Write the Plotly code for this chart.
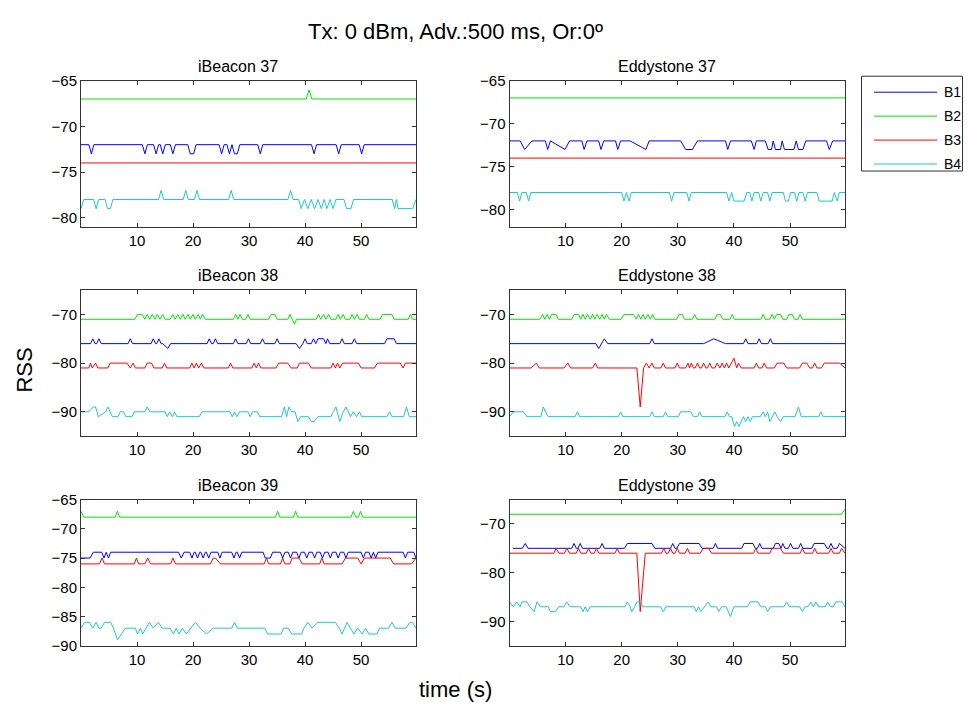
import plotly.graph_objects as go

SUPTITLE = "Tx: 0 dBm, Adv.:500 ms, Or:0º"
X_LABEL = "time (s)"
Y_LABEL = "RSS"
SERIES = ["B1", "B2", "B3", "B4"]
PANEL_TITLES = ["iBeacon 37", "Eddystone 37", "iBeacon 38", "Eddystone 38", "iBeacon 39", "Eddystone 39"]
X_TICKS = [10, 20, 30, 40, 50]

# each series: (time s, RSS dBm) vertices
IB37_B1 = [(0, -72), (1.4, -72), (1.85, -73), (2.3, -72), (10.95, -72), (11.4, -73), (11.85, -72),
           (12.95, -72), (13.4, -73), (13.85, -72), (14.15, -72), (14.6, -73), (15.05, -72),
           (15.95, -72), (16.4, -73), (16.85, -72), (19.05, -72), (19.5, -73), (20.1, -73), (20.55, -72),
           (24.65, -72), (25.1, -73), (25.55, -72), (26.05, -72), (26.5, -73), (26.95, -72),
           (27.4, -73), (27.9, -73), (28.35, -72), (31.55, -72), (32.0, -73), (32.45, -72),
           (41.15, -72), (41.6, -73), (42.05, -72), (45.55, -72), (46.0, -73), (46.45, -72),
           (49.65, -72), (50.1, -73), (50.55, -72), (59.8, -72)]
IB37_B2 = [(0, -67), (40.2, -67), (40.7, -66), (41.2, -67), (59.8, -67)]
IB37_B3 = [(0, -74), (59.8, -74)]
IB37_B4 = [(0, -79), (0.5, -78), (2.25, -78), (2.7, -79), (3.15, -78), (4.3, -78), (4.75, -79), (5.25, -79),
           (5.7, -78), (13.85, -78), (14.3, -77), (14.75, -78), (18.25, -78), (18.7, -77), (19.15, -78),
           (20.25, -78), (20.7, -77), (21.15, -78), (26.35, -78), (26.8, -77), (27.25, -78),
           (36.95, -78), (37.4, -77), (37.85, -78), (38.85, -78), (39.3, -79), (39.9, -78), (40.5, -79),
           (41.1, -78), (41.7, -79), (42.3, -78), (42.9, -79), (43.4, -78), (43.9, -79), (44.45, -78),
           (45.0, -79), (45.5, -78), (46.95, -78), (47.4, -79), (48.2, -79), (48.65, -78),
           (55.55, -78), (56.0, -79), (56.3, -78), (56.6, -79), (59.2, -79), (59.8, -78)]

ED37_B1 = [(0, -72), (1.9, -72), (2.7, -73), (4.0, -72), (6.4, -72), (6.8, -73), (7.3, -72), (9.9, -73),
           (10.7, -72), (12.9, -72), (13.3, -73), (13.8, -72), (15.9, -72), (16.3, -73), (16.8, -72),
           (18.9, -72), (19.3, -73), (19.8, -72), (21.5, -72), (24.3, -73), (24.9, -72), (30.5, -72),
           (31.4, -73), (32.6, -73), (33.5, -72), (38.5, -72), (38.9, -73), (39.4, -72), (43.1, -72),
           (43.6, -73), (44.0, -72), (45.6, -72), (46.1, -73), (46.7, -73), (47.0, -72), (47.4, -73),
           (48.3, -73), (48.6, -72), (49.0, -73), (50.7, -73), (51.1, -72), (51.5, -73), (52.3, -73),
           (52.8, -72), (56.5, -72), (57.0, -73), (57.6, -72), (59.8, -72)]
ED37_B2 = [(0, -67), (59.8, -67)]
ED37_B3 = [(0, -74), (59.8, -74)]
ED37_B4 = [(0, -78), (1.4, -78), (1.8, -79), (2.2, -78), (3.0, -78), (3.4, -79), (3.8, -78), (20.0, -78),
           (20.4, -79), (20.85, -78), (21.3, -79), (21.7, -78), (28.5, -78), (28.9, -79), (29.3, -78),
           (31.6, -78), (32.0, -79), (32.4, -78), (38.7, -78), (39.1, -79), (39.6, -78), (40.0, -79),
           (41.8, -79), (42.3, -78), (42.8, -78), (43.2, -79), (43.6, -78), (44.4, -78), (44.8, -79),
           (45.2, -78), (46.0, -78), (46.4, -79), (46.8, -78), (48.8, -78), (49.2, -79), (49.7, -79),
           (50.1, -78), (50.8, -78), (51.2, -79), (51.6, -78), (52.3, -78), (52.7, -79), (53.1, -78),
           (54.8, -78), (55.2, -79), (57.5, -79), (57.9, -78), (58.4, -79), (58.8, -78), (59.8, -78)]

IB38_B1 = [(0, -76), (1.7, -76), (2.1, -75), (2.5, -76), (2.8, -76), (3.2, -75), (3.6, -76), (8.4, -76),
           (8.8, -75), (9.2, -76), (12.5, -76), (12.9, -75), (13.3, -76), (13.5, -76), (13.9, -75),
           (14.3, -76), (14.6, -76), (15.5, -77), (16.0, -76), (22.5, -76), (22.9, -75), (23.3, -76),
           (23.6, -76), (24.0, -75), (24.4, -76), (27.2, -76), (27.6, -75), (28.0, -76), (29.5, -76),
           (29.9, -75), (30.3, -76), (32.0, -76), (32.4, -75), (32.8, -76), (34.6, -76), (35.0, -75),
           (35.4, -76), (38.4, -76), (39.0, -77), (39.6, -76), (40.0, -75), (40.4, -76), (41.1, -76),
           (41.5, -75), (41.9, -76), (42.3, -75), (43.3, -75), (43.7, -76), (44.0, -75), (44.4, -76),
           (46.2, -76), (46.6, -75), (47.0, -76), (48.4, -76), (48.8, -75), (49.2, -76), (54.2, -76),
           (54.6, -75), (55.9, -75), (56.3, -76), (59.8, -76)]
IB38_B2 = [(0, -71), (9.6, -71), (10.1, -70), (10.9, -70), (11.4, -71), (11.8, -70), (12.3, -71),
           (12.7, -70), (13.2, -71), (13.6, -70), (14.1, -71), (14.6, -70), (15.0, -71), (15.9, -71),
           (16.4, -70), (16.8, -71), (17.3, -70), (17.7, -71), (18.2, -70), (18.6, -71), (19.1, -70),
           (19.5, -71), (20.0, -70), (20.4, -71), (20.9, -70), (21.3, -71), (21.7, -70), (22.2, -71),
           (27.2, -71), (27.6, -70), (28.0, -71), (28.4, -70), (28.8, -71), (29.4, -71), (29.8, -70),
           (30.2, -71), (33.5, -71), (33.9, -70), (34.6, -70), (35.0, -71), (36.9, -71), (37.3, -70),
           (37.7, -71), (38.1, -72), (38.5, -71), (42.0, -71), (42.4, -70), (42.8, -71), (43.3, -70),
           (43.7, -71), (44.2, -70), (44.6, -71), (45.5, -71), (45.9, -70), (46.3, -71), (46.8, -70),
           (47.2, -71), (48.0, -71), (48.4, -70), (48.8, -71), (49.3, -70), (49.7, -71), (50.6, -71),
           (51.0, -70), (51.4, -71), (53.4, -71), (53.8, -70), (55.5, -70), (55.9, -71), (58.4, -71),
           (58.8, -70), (59.2, -71), (59.8, -71)]
IB38_B3 = [(0, -81), (1.4, -81), (1.7, -80), (2.0, -81), (2.6, -80), (3.0, -81), (4.8, -81), (5.2, -80),
           (8.2, -80), (8.8, -81), (9.3, -80), (9.7, -81), (11.4, -81), (11.8, -80), (12.6, -80),
           (13.0, -81), (14.5, -81), (14.9, -80), (15.3, -81), (19.4, -81), (19.8, -80), (20.2, -81),
           (20.6, -80), (21.0, -81), (21.5, -80), (21.9, -81), (26.3, -81), (26.7, -80), (27.1, -81),
           (30.5, -81), (30.9, -80), (31.3, -81), (31.7, -80), (32.1, -81), (34.8, -81), (35.3, -80),
           (36.9, -80), (37.5, -81), (38.6, -81), (39.0, -80), (40.6, -80), (41.1, -81), (44.6, -81),
           (45.0, -80), (45.4, -81), (45.8, -80), (46.2, -81), (46.7, -80), (49.5, -80), (50.0, -81),
           (52.4, -81), (52.9, -80), (57.0, -80), (57.5, -81), (57.9, -80), (59.8, -80)]
IB38_B4 = [(0, -90), (1.4, -90), (2.2, -89), (2.6, -89), (3.1, -91), (4.4, -90), (4.8, -89), (5.6, -91),
           (6.6, -91), (7.0, -90), (7.6, -90), (8.0, -91), (9.1, -91), (9.5, -90), (11.4, -90),
           (11.8, -89), (12.3, -90), (15.0, -90), (15.4, -91), (15.8, -90), (16.3, -91), (16.7, -90),
           (17.1, -91), (21.1, -91), (21.6, -90), (26.6, -90), (27.0, -91), (27.4, -90), (27.8, -91),
           (28.3, -90), (29.8, -90), (30.2, -91), (30.6, -90), (31.5, -90), (31.9, -91), (35.8, -91),
           (36.3, -89), (36.7, -91), (37.1, -89), (37.6, -90), (38.2, -90), (38.7, -92), (39.2, -91),
           (40.6, -91), (41.1, -92), (41.6, -92), (42.3, -91), (44.6, -91), (45.0, -90), (45.5, -89),
           (46.2, -92), (46.8, -90), (47.3, -89), (47.7, -90), (48.1, -91), (48.6, -90), (49.2, -91),
           (49.7, -90), (50.1, -91), (54.6, -91), (55.1, -90), (55.5, -91), (57.6, -91), (58.1, -89),
           (58.6, -91), (59.8, -91)]

ED38_B1 = [(0, -76), (15.4, -76), (15.9, -77), (16.9, -75), (17.5, -76), (25.0, -76), (25.4, -75),
           (25.8, -76), (34.6, -76), (36.4, -75), (38.5, -76), (41.7, -76), (42.1, -75), (42.5, -76),
           (44.1, -76), (44.5, -75), (44.9, -76), (46.1, -76), (46.5, -75), (46.9, -76), (59.8, -76)]
ED38_B2 = [(0, -71), (5.4, -71), (5.9, -70), (6.3, -71), (6.7, -70), (7.1, -71), (7.5, -70), (8.3, -70),
           (8.7, -71), (11.1, -71), (11.5, -70), (12.3, -70), (12.7, -71), (13.1, -70), (13.5, -71),
           (13.9, -70), (14.4, -71), (14.8, -70), (15.2, -71), (15.6, -70), (16.1, -71), (16.5, -70),
           (16.9, -71), (17.3, -70), (17.8, -71), (19.9, -71), (20.4, -70), (22.1, -70), (22.6, -71),
           (23.0, -70), (23.4, -71), (23.8, -70), (24.2, -71), (24.7, -70), (25.1, -71), (25.5, -70),
           (25.9, -71), (29.8, -71), (30.2, -70), (30.8, -70), (31.2, -71), (32.6, -71), (33.0, -70),
           (33.4, -71), (36.6, -71), (37.0, -70), (37.6, -70), (38.0, -71), (39.3, -71), (39.7, -70),
           (40.1, -71), (44.8, -71), (45.2, -70), (45.6, -71), (46.4, -71), (46.8, -70), (47.2, -71),
           (47.6, -70), (48.3, -70), (48.7, -71), (49.4, -71), (49.8, -70), (50.4, -70), (50.8, -71),
           (51.4, -71), (51.8, -70), (52.2, -71), (59.8, -71)]
ED38_B3 = [(0, -81), (3.8, -81), (4.8, -80), (5.3, -81), (9.7, -81), (10.4, -80), (10.9, -81), (14.8, -81),
           (15.3, -80), (15.7, -81), (22.7, -81), (23.3, -89), (23.9, -81), (24.4, -80), (24.9, -81),
           (25.4, -80), (25.8, -81), (27.0, -81), (27.4, -80), (27.8, -81), (29.5, -81), (29.9, -80),
           (30.3, -81), (31.4, -81), (31.8, -80), (32.1, -81), (32.4, -80), (32.8, -81), (33.1, -81),
           (33.5, -80), (33.9, -81), (34.2, -81), (34.6, -80), (35.0, -81), (35.3, -81), (35.7, -80),
           (36.1, -81), (36.6, -81), (37.0, -80), (37.4, -81), (37.5, -81), (37.9, -80), (38.3, -81),
           (38.7, -80), (39.1, -81), (40.0, -79), (40.5, -81), (40.8, -80), (41.3, -81), (43.6, -81),
           (44.0, -80), (44.4, -81), (45.0, -81), (45.4, -80), (45.8, -81), (47.2, -81), (47.7, -80),
           (48.9, -80), (49.4, -81), (51.7, -81), (52.2, -80), (53.0, -80), (53.5, -81), (54.0, -81),
           (54.4, -80), (54.8, -81), (55.6, -81), (56.1, -80), (58.8, -80), (59.8, -81)]
ED38_B4 = [(0, -91), (0.7, -90), (2.5, -90), (3.1, -91), (5.6, -91), (6.0, -89), (6.9, -91), (11.7, -91),
           (12.1, -90), (12.5, -91), (19.4, -91), (19.8, -90), (20.2, -91), (25.0, -91), (25.4, -90),
           (25.8, -91), (27.4, -91), (27.8, -90), (28.2, -91), (30.1, -91), (30.5, -90), (32.3, -90),
           (32.8, -91), (33.5, -91), (33.9, -90), (34.3, -91), (38.4, -91), (38.8, -90), (39.2, -91),
           (39.6, -91), (40.1, -93), (40.5, -92), (40.9, -93), (41.3, -92), (41.7, -91), (42.1, -92),
           (42.5, -91), (42.9, -92), (43.3, -91), (44.7, -91), (45.2, -90), (45.6, -91), (46.0, -90),
           (46.4, -92), (46.9, -91), (47.3, -90), (47.7, -91), (48.3, -92), (48.8, -91), (50.9, -91),
           (51.5, -89), (52.0, -91), (55.1, -91), (55.5, -90), (55.9, -91), (59.8, -91)]

IB39_B1 = [(0, -75), (1.6, -75), (2.2, -74), (3.7, -74), (4.1, -75), (4.5, -74), (4.9, -75), (5.3, -74),
           (17.4, -74), (17.9, -75), (18.4, -74), (19.4, -74), (19.8, -75), (20.2, -74), (20.4, -74),
           (20.8, -75), (21.2, -74), (21.4, -74), (21.8, -75), (22.2, -74), (22.4, -74), (22.8, -75),
           (23.2, -74), (24.4, -74), (24.8, -75), (25.2, -74), (26.9, -74), (27.3, -75), (27.7, -74),
           (27.9, -74), (28.3, -75), (28.7, -74), (32.5, -74), (32.9, -75), (33.8, -75), (34.2, -74),
           (35.6, -74), (36.0, -75), (36.4, -74), (37.0, -74), (37.4, -75), (37.8, -74), (38.5, -74),
           (38.9, -75), (39.3, -74), (39.9, -74), (40.3, -75), (40.7, -74), (41.3, -74), (41.7, -75),
           (42.1, -74), (42.7, -74), (43.1, -75), (43.5, -74), (44.1, -74), (44.5, -75), (44.9, -74),
           (45.5, -74), (45.9, -75), (46.3, -74), (46.9, -74), (47.3, -75), (47.7, -74), (50.0, -74),
           (50.4, -75), (50.8, -74), (51.4, -74), (51.8, -75), (52.2, -74), (52.6, -75), (53.0, -74),
           (57.5, -74), (57.9, -75), (58.3, -74), (59.4, -74), (59.8, -75)]
IB39_B2 = [(0, -67), (0.5, -68), (6.1, -68), (6.5, -67), (6.9, -68), (34.7, -68), (35.1, -67), (35.5, -68),
           (37.9, -68), (38.3, -67), (38.7, -68), (48.2, -68), (48.6, -67), (49.1, -68), (49.5, -68),
           (49.9, -67), (50.3, -68), (59.8, -68)]
IB39_B3 = [(0, -76), (3.3, -76), (3.75, -75), (4.2, -76), (9.5, -76), (9.9, -75), (10.3, -76), (11.4, -76),
           (11.9, -75), (12.4, -76), (16.0, -76), (16.4, -75), (16.9, -76), (23.1, -76), (23.6, -75),
           (24.0, -75), (24.9, -76), (32.7, -76), (33.1, -75), (33.5, -76), (35.6, -76), (36.0, -75),
           (36.4, -76), (37.3, -76), (37.7, -75), (38.9, -75), (39.5, -76), (42.6, -76), (43.0, -75),
           (43.4, -76), (46.6, -76), (47.2, -75), (49.4, -75), (50.0, -76), (50.6, -75), (55.2, -75),
           (55.8, -76), (59.0, -76), (59.8, -75)]
IB39_B4 = [(0, -87), (0.6, -86), (1.5, -86), (2.1, -87), (2.7, -86), (3.2, -87), (3.6, -87), (4.2, -86),
           (5.3, -86), (5.8, -87), (6.5, -89), (7.9, -87), (9.7, -87), (10.1, -88), (10.6, -87),
           (11.0, -88), (12.2, -86), (12.9, -87), (13.8, -86), (14.5, -87), (15.9, -87), (16.5, -88),
           (17.0, -87), (17.5, -88), (18.1, -87), (18.8, -88), (20.4, -86), (21.3, -87), (22.4, -88),
           (23.6, -87), (26.9, -87), (27.4, -86), (27.9, -87), (32.8, -87), (33.3, -88), (35.7, -88),
           (36.2, -87), (37.0, -87), (37.6, -88), (39.4, -88), (39.8, -87), (40.5, -86), (41.2, -87),
           (42.2, -86), (45.4, -86), (46.1, -87), (46.6, -88), (47.5, -86), (48.7, -88), (49.4, -87),
           (50.2, -88), (50.8, -87), (51.4, -88), (52.8, -88), (53.3, -87), (54.9, -87), (55.5, -86),
           (56.1, -87), (58.0, -87), (58.7, -86), (59.2, -86), (59.8, -87)]

ED39_B1 = [(0.6, -75), (2.3, -75), (2.8, -74), (3.3, -75), (11.1, -75), (11.5, -74), (11.9, -75),
           (12.2, -75), (12.6, -74), (13.0, -75), (16.1, -75), (16.5, -74), (16.9, -75), (20.5, -75),
           (21.0, -74), (25.4, -74), (25.9, -75), (28.7, -75), (29.1, -74), (29.5, -75), (29.8, -75),
           (30.3, -74), (33.8, -74), (34.3, -75), (36.3, -75), (36.7, -74), (37.1, -75), (41.4, -75),
           (41.8, -74), (43.4, -74), (43.8, -75), (44.2, -75), (44.6, -74), (45.0, -75), (47.0, -75),
           (47.4, -74), (48.0, -74), (48.4, -75), (48.7, -74), (49.1, -75), (49.7, -75), (50.1, -74),
           (50.5, -75), (51.5, -75), (51.9, -74), (52.3, -75), (53.9, -75), (54.3, -74), (56.1, -74),
           (56.6, -75), (56.9, -75), (57.3, -74), (57.7, -75), (58.4, -75), (58.8, -74), (59.8, -75)]
ED39_B2 = [(0, -68), (59.2, -68), (59.8, -67)]
ED39_B3 = [(0, -76), (7.9, -76), (8.3, -75), (8.8, -76), (9.8, -76), (10.2, -75), (10.7, -76), (11.9, -76),
           (12.3, -75), (12.7, -76), (13.7, -76), (14.1, -75), (14.5, -76), (15.1, -76), (15.5, -75),
           (15.9, -76), (18.8, -76), (19.2, -75), (19.6, -76), (22.7, -76), (23.3, -88), (24.2, -76),
           (27.1, -76), (27.5, -75), (27.9, -76), (28.3, -76), (28.7, -75), (29.1, -76), (29.5, -76),
           (29.9, -75), (30.3, -76), (31.3, -76), (31.7, -75), (32.1, -76), (34.0, -76), (34.5, -75),
           (35.5, -75), (36.0, -76), (43.5, -76), (43.9, -75), (44.3, -76), (46.4, -76), (46.8, -75),
           (48.3, -75), (48.8, -76), (51.8, -76), (52.2, -75), (52.6, -76), (54.0, -76), (54.4, -75),
           (54.8, -76), (56.9, -76), (57.3, -75), (57.7, -76), (58.8, -76), (59.2, -75), (59.8, -76)]
ED39_B4 = [(0, -86), (0.7, -87), (1.3, -86), (1.9, -87), (2.2, -86), (3.1, -86), (3.6, -87), (4.4, -88),
           (4.9, -86), (5.5, -87), (6.9, -87), (7.3, -88), (8.2, -88), (8.8, -87), (9.7, -87), (10.2, -86),
           (10.8, -87), (12.7, -87), (13.1, -88), (13.5, -87), (13.9, -88), (14.4, -87), (20.6, -87),
           (21.0, -86), (21.5, -87), (21.8, -88), (22.3, -87), (22.7, -86), (23.3, -86), (23.8, -87),
           (26.9, -87), (27.4, -88), (27.9, -87), (32.9, -87), (33.3, -88), (33.7, -87), (34.1, -88),
           (35.4, -86), (35.9, -87), (36.9, -87), (37.3, -88), (37.8, -87), (38.6, -87), (39.4, -89),
           (40.0, -87), (42.4, -87), (42.9, -86), (44.3, -86), (44.8, -87), (45.6, -87), (46.0, -88),
           (46.5, -87), (48.9, -87), (49.4, -86), (49.9, -87), (51.7, -87), (52.2, -88), (52.7, -87),
           (53.2, -87), (53.7, -86), (54.2, -87), (54.6, -86), (55.1, -87), (56.3, -87), (56.7, -86),
           (57.2, -87), (57.7, -87), (58.2, -86), (59.3, -86), (59.8, -87)]

PANEL_DATA = [
    [IB37_B1, IB37_B2, IB37_B3, IB37_B4],
    [ED37_B1, ED37_B2, ED37_B3, ED37_B4],
    [IB38_B1, IB38_B2, IB38_B3, IB38_B4],
    [ED38_B1, ED38_B2, ED38_B3, ED38_B4],
    [IB39_B1, IB39_B2, IB39_B3, IB39_B4],
    [ED39_B1, ED39_B2, ED39_B3, ED39_B4],
]
Y_RANGES = [(-81, -65), (-82, -65), (-95, -65), (-95, -65), (-90, -65), (-95, -65)]
Y_TICKS = [[-80, -75, -70, -65], [-80, -75, -70, -65], [-90, -80, -70], [-90, -80, -70],
           [-90, -85, -80, -75, -70, -65], [-90, -80, -70]]

COLORS = {"B1": "#0000ff", "B2": "#00e600", "B3": "#ff0000", "B4": "#1ec8c8"}

# the page puts the figure 8px in from the left and ~16px down, and the shot
# comes back slightly squashed vertically; target positions are in picture px
W, H = 955, 706
LEFT, TOP, SQUASH = 8, 16, 0.978
FONT = "Liberation Sans, Arial, sans-serif"
COL_X = [(81, 416), (509.5, 845)]
ROW_Y = [(79.5, 226), (289.3, 435.7), (499.3, 645.7)]
TITLE_X = [238, 667]
TITLE_Y = [65, 275, 485]


def px(x):
    return (x - LEFT) / W


def py(y):
    return 1 - (y / SQUASH - TOP) / H


fig = go.Figure()
annotations = []
for i, (title, panel) in enumerate(zip(PANEL_TITLES, PANEL_DATA)):
    row, col = divmod(i, 2)
    n = i + 1
    for name, pts in zip(SERIES, panel):
        fig.add_trace(go.Scatter(
            x=[p[0] for p in pts], y=[p[1] for p in pts], mode="lines", name=name,
            line=dict(color=COLORS[name], width=1), showlegend=False,
            xaxis=f"x{n}", yaxis=f"y{n}"))
    axis_common = dict(showline=True, linecolor="#333333", linewidth=1, mirror="ticks",
                       ticks="inside", ticklen=4, tickcolor="#333333", showgrid=False,
                       zeroline=False, tickfont=dict(family=FONT, size=15, color="black"))
    fig.layout[f"xaxis{n}"] = dict(domain=[px(COL_X[col][0]), px(COL_X[col][1])], range=[0, 59.8],
                                   tickvals=X_TICKS, anchor=f"y{n}", **axis_common)
    fig.layout[f"yaxis{n}"] = dict(domain=[py(ROW_Y[row][1]), py(ROW_Y[row][0])], range=list(Y_RANGES[i]),
                                   tickvals=Y_TICKS[i], anchor=f"x{n}", **axis_common)
    annotations.append(dict(text=title, x=px(TITLE_X[col]), y=py(TITLE_Y[row]), xref="paper", yref="paper",
                            showarrow=False, xanchor="center", yanchor="middle",
                            font=dict(family=FONT, size=16, color="black")))

annotations.append(dict(text=SUPTITLE, x=px(455), y=1, xref="paper", yref="paper", showarrow=False,
                        xanchor="center", yanchor="top", font=dict(family=FONT, size=22, color="black")))
annotations.append(dict(text=X_LABEL, x=px(455), y=py(690), xref="paper", yref="paper", showarrow=False,
                        xanchor="center", yanchor="middle", font=dict(family=FONT, size=22, color="black")))
annotations.append(dict(text=Y_LABEL, x=px(25), y=py(370), xref="paper", yref="paper", showarrow=False,
                        textangle=-90, xanchor="center", yanchor="middle",
                        font=dict(family=FONT, size=22, color="black")))

# legend box drawn by hand so the line samples are MATLAB length
shapes = [dict(type="rect", xref="paper", yref="paper", x0=px(861.5), x1=px(962.5), y0=py(170), y1=py(75),
               line=dict(color="#333333", width=1), fillcolor="white")]
for j, name in enumerate(SERIES):
    yy = 91 + 24 * j
    shapes.append(dict(type="line", xref="paper", yref="paper", x0=px(874), x1=px(937), y0=py(yy), y1=py(yy),
                       line=dict(color=COLORS[name], width=1)))
    annotations.append(dict(text=name, x=px(942), y=py(yy), xref="paper", yref="paper", showarrow=False,
                            xanchor="left", yanchor="middle", font=dict(family=FONT, size=14, color="black")))

fig.update_layout(width=W, height=H, margin=dict(l=0, r=0, t=0, b=0), paper_bgcolor="white",
                  plot_bgcolor="white", annotations=annotations, shapes=shapes, showlegend=False)
fig.write_html("out.html")
